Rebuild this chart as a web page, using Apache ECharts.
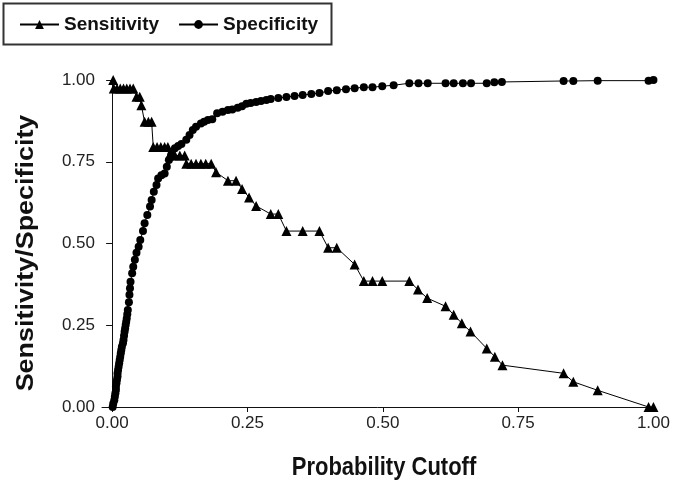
<!DOCTYPE html>
<html>
<head>
<meta charset="utf-8">
<script src="https://cdn.jsdelivr.net/npm/echarts@6/dist/echarts.min.js"></script>
<style>html,body{margin:0;padding:0;background:#fff}#c{width:673px;height:487px}</style>
</head>
<body>
<div id="c"></div>
<script>
const xTicks = [0, 0.25, 0.5, 0.75, 1.0];
const yTicks = [0, 0.25, 0.5, 0.75, 1.0];

const sensX = [0.002, 0.003, 0.009, 0.015, 0.021, 0.027, 0.033, 0.039, 0.045, 0.051, 0.054, 0.060, 0.067, 0.073,
  0.076, 0.083, 0.090, 0.097, 0.103, 0.106, 0.116, 0.125, 0.134, 0.137, 0.146, 0.155, 0.164, 0.173, 0.183,
  0.192, 0.214, 0.229, 0.240, 0.253, 0.266, 0.293, 0.307, 0.322, 0.352, 0.383, 0.399, 0.415, 0.448,
  0.465, 0.481, 0.499, 0.549, 0.565, 0.582, 0.616, 0.631, 0.646, 0.662, 0.692, 0.707, 0.721,
  0.834, 0.852, 0.897, 0.991, 1.000];
const sensY = [1.000, 0.974, 0.974, 0.974, 0.974, 0.974, 0.974, 0.974, 0.949, 0.949, 0.923, 0.872, 0.872, 0.872,
  0.795, 0.795, 0.795, 0.795, 0.795, 0.769, 0.769, 0.769, 0.769, 0.744, 0.744, 0.744, 0.744, 0.744, 0.744,
  0.718, 0.692, 0.692, 0.667, 0.641, 0.615, 0.590, 0.590, 0.538, 0.538, 0.538, 0.487, 0.487, 0.436,
  0.385, 0.385, 0.385, 0.385, 0.359, 0.333, 0.308, 0.282, 0.256, 0.231, 0.179, 0.154, 0.128,
  0.103, 0.077, 0.051, 0.000, 0.000];

const specX = [0.001, 0.002, 0.004, 0.005, 0.006, 0.007, 0.007, 0.008, 0.009, 0.010, 0.010, 0.011, 0.012, 0.013,
  0.014, 0.015, 0.016, 0.017, 0.018, 0.020, 0.021, 0.022, 0.023, 0.024, 0.025, 0.026, 0.027, 0.028, 0.029,
  0.031, 0.032, 0.033, 0.034, 0.037, 0.039, 0.042, 0.045, 0.049, 0.052, 0.057, 0.060, 0.065, 0.070, 0.073,
  0.077, 0.082, 0.085, 0.091, 0.097, 0.101, 0.105, 0.109, 0.116, 0.122, 0.128, 0.137, 0.143, 0.149, 0.155,
  0.164, 0.170, 0.177, 0.185, 0.194, 0.204, 0.214, 0.222, 0.232, 0.240, 0.248, 0.256, 0.266, 0.275, 0.285,
  0.293, 0.307, 0.322, 0.337, 0.352, 0.368, 0.383, 0.399, 0.415, 0.432, 0.448, 0.465, 0.481, 0.499, 0.520,
  0.549, 0.566, 0.583, 0.616, 0.631, 0.648, 0.663, 0.692, 0.706, 0.720, 0.834, 0.852, 0.897, 0.991, 1.000];
const specY = [0.000, 0.010, 0.021, 0.031, 0.042, 0.052, 0.062, 0.073, 0.083, 0.093, 0.103, 0.113, 0.123, 0.134,
  0.144, 0.154, 0.164, 0.174, 0.184, 0.195, 0.205, 0.218, 0.230, 0.240, 0.251, 0.261, 0.271, 0.284, 0.297,
  0.320, 0.343, 0.363, 0.383, 0.409, 0.429, 0.450, 0.472, 0.490, 0.511, 0.538, 0.562, 0.587, 0.613, 0.633,
  0.658, 0.679, 0.699, 0.709, 0.714, 0.735, 0.755, 0.771, 0.791, 0.798, 0.804, 0.817, 0.832, 0.847, 0.857,
  0.867, 0.872, 0.878, 0.880, 0.898, 0.903, 0.908, 0.910, 0.915, 0.920, 0.927, 0.930, 0.933, 0.936, 0.939,
  0.942, 0.945, 0.948, 0.951, 0.954, 0.957, 0.960, 0.966, 0.969, 0.972, 0.975, 0.978, 0.978, 0.981, 0.984,
  0.990, 0.990, 0.990, 0.990, 0.990, 0.990, 0.990, 0.990, 0.993, 0.994, 0.997, 0.997, 0.998, 0.998, 1.000];

const seriesNames = ['Sensitivity', 'Specificity'];
const xTitle = 'Probability Cutoff';
const yTitle = 'Sensitivity/Specificity';

const REG = "'Liberation Sans', Arial, sans-serif";

const chart = echarts.init(document.getElementById('c'), null, {renderer: 'canvas'});
const fmt = v => Number(v).toFixed(2);

chart.setOption({
  animation: false,
  backgroundColor: '#fff',
  grid: {left: 102, right: 16, top: 80, bottom: 80, containLabel: false},
  legend: {
    data: seriesNames,
    left: 19, top: 15, padding: 0,
    itemWidth: 39, itemHeight: 11, itemGap: 19,
    textStyle: {fontFamily: REG, fontWeight: 'bold', fontSize: 19, color: '#111'}
  },
  graphic: [
    {
      type: 'rect', left: 1, top: 1, silent: true,
      shape: {x: 0, y: 0, width: 328, height: 41},
      style: {fill: 'none', stroke: '#333', lineWidth: 2}
    },
    {
      type: 'text', x: 384, y: 468, scaleY: 1.19, silent: true,
      style: {text: xTitle, font: "bold 22px 'Liberation Sans', Arial, sans-serif", fill: '#111',
        align: 'center', verticalAlign: 'middle'}
    },
    {
      type: 'text', x: 27, y: 253, rotation: Math.PI / 2, scaleX: 1.17, silent: true,
      style: {text: yTitle, font: "bold 23px 'Liberation Sans', Arial, sans-serif", fill: '#111',
        align: 'center', verticalAlign: 'middle'}
    }
  ],
  xAxis: {
    type: 'value', min: -0.0187, max: 1.0,
    axisLine: {show: true, onZero: false, lineStyle: {color: '#111', width: 1}},
    axisTick: {show: true, length: 5, customValues: xTicks, lineStyle: {color: '#111'}},
    axisLabel: {customValues: xTicks, formatter: fmt, margin: 8, fontFamily: REG, fontSize: 17, color: '#222'},
    splitLine: {show: false}
  },
  yAxis: {
    type: 'value', min: 0, max: 1, interval: 0.25,
    axisLine: {show: true, lineStyle: {color: '#111', width: 1}},
    axisTick: {show: true, length: 6, lineStyle: {color: '#111'}},
    axisLabel: {formatter: fmt, margin: 7, fontFamily: REG, fontSize: 17, color: '#222'},
    splitLine: {show: false}
  },
  series: [
    {
      name: seriesNames[0], type: 'line', clip: false,
      data: sensX.map((x, i) => [x, sensY[i]]),
      symbol: 'triangle', symbolSize: 10, showAllSymbol: true,
      lineStyle: {color: '#000', width: 1},
      itemStyle: {color: '#000'}
    },
    {
      name: seriesNames[1], type: 'line', clip: false,
      data: specX.map((x, i) => [x, specY[i]]),
      symbol: 'circle', symbolSize: 8, showAllSymbol: true,
      lineStyle: {color: '#000', width: 1},
      itemStyle: {color: '#000'}
    }
  ]
});
</script>
</body>
</html>
